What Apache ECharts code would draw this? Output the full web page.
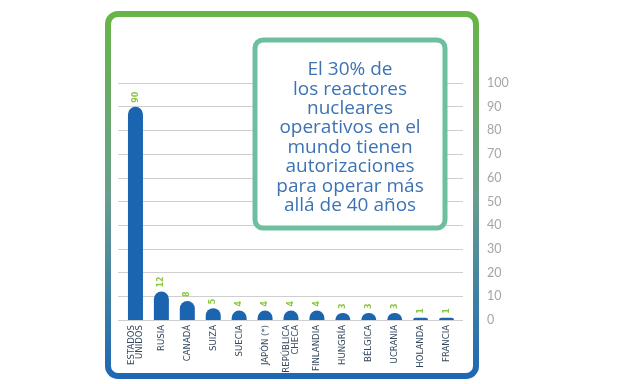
<!DOCTYPE html>
<html><head><meta charset="utf-8">
<script src="https://cdn.jsdelivr.net/npm/echarts@6/dist/echarts.min.js"></script>
<style>html,body{margin:0;padding:0;background:#fff}#c{width:640px;height:384px}</style>
</head><body><div id="c"></div>
<script>
const categories = ['ESTADOS\nUNIDOS','RUSIA','CANADÁ','SUIZA','SUECIA','JAPÓN (*)','REPÚBLICA\nCHECA','FINLANDIA','HUNGRÍA','BÉLGICA','UCRANIA','HOLANDA','FRANCIA'];
const values = [90,12,8,5,4,4,4,4,3,3,3,1,1];
const yTicks = {min:0, max:100, interval:10};
const boxText = 'El 30% de\nlos reactores\nnucleares\noperativos en el\nmundo tienen\nautorizaciones\npara operar más\nallá de 40 años';

const chart = echarts.init(document.getElementById('c'));
chart.setOption({
  animation:false,
  backgroundColor:'#fff',
  grid:[
    {left:118, right:177, top:83, bottom:64},
    {left:122.5, right:180.5, top:83, bottom:64}
  ],
  xAxis:[
    {gridIndex:0, type:'value', min:0, max:1, show:false},
    {gridIndex:1, type:'category', data:categories,
     axisLine:{show:false}, axisTick:{show:false},
     axisLabel:{rotate:90, interval:0, margin:5, color:'#33475c', fontSize:9.5, lineHeight:8.5,
       fontFamily:'DejaVu Sans Condensed', align:'right'}}
  ],
  yAxis:[
    {gridIndex:0, type:'value', position:'right', min:yTicks.min, max:yTicks.max, interval:yTicks.interval,
     axisLine:{show:false}, axisTick:{show:false},
     splitLine:{lineStyle:{color:'#cfcfcf', width:1}},
     axisLabel:{margin:24, color:'#a5a5a5', fontSize:12.5, fontFamily:'Lato', padding:[0,0,6,0]}},
    {gridIndex:1, type:'value', min:yTicks.min, max:yTicks.max, interval:yTicks.interval, show:false}
  ],
  series:[{
    type:'bar', xAxisIndex:1, yAxisIndex:1, data:values, barWidth:15,
    itemStyle:{color:'#1a64b0', borderRadius:[7.5,7.5,0,0]},
    label:{show:true, position:'top', rotate:90, align:'left', verticalAlign:'middle', distance:4,
      color:'#8cc63f', fontSize:8, fontWeight:'bold', fontFamily:'DejaVu Sans'}
  }],
  graphic:[
    {type:'rect', z:100, shape:{x:108, y:14, width:368, height:362, r:10},
     style:{fill:'none', lineWidth:6,
       stroke:new echarts.graphic.LinearGradient(0,0,0,1,[{offset:0,color:'#67b546'},{offset:0.5,color:'#6a9e8e'},{offset:1,color:'#1d67b5'}])}},
    {type:'rect', z:100, shape:{x:255, y:40, width:190, height:188, r:8},
     style:{fill:'#fff', stroke:'#6dbf9f', lineWidth:5}},
    {type:'text', z:101, x:350, y:60, style:{text:boxText, fill:'#3d73b3', font:'19px "Open Sans"', lineHeight:19.4, align:'center', verticalAlign:'top'}}
  ]
});
</script></body></html>
